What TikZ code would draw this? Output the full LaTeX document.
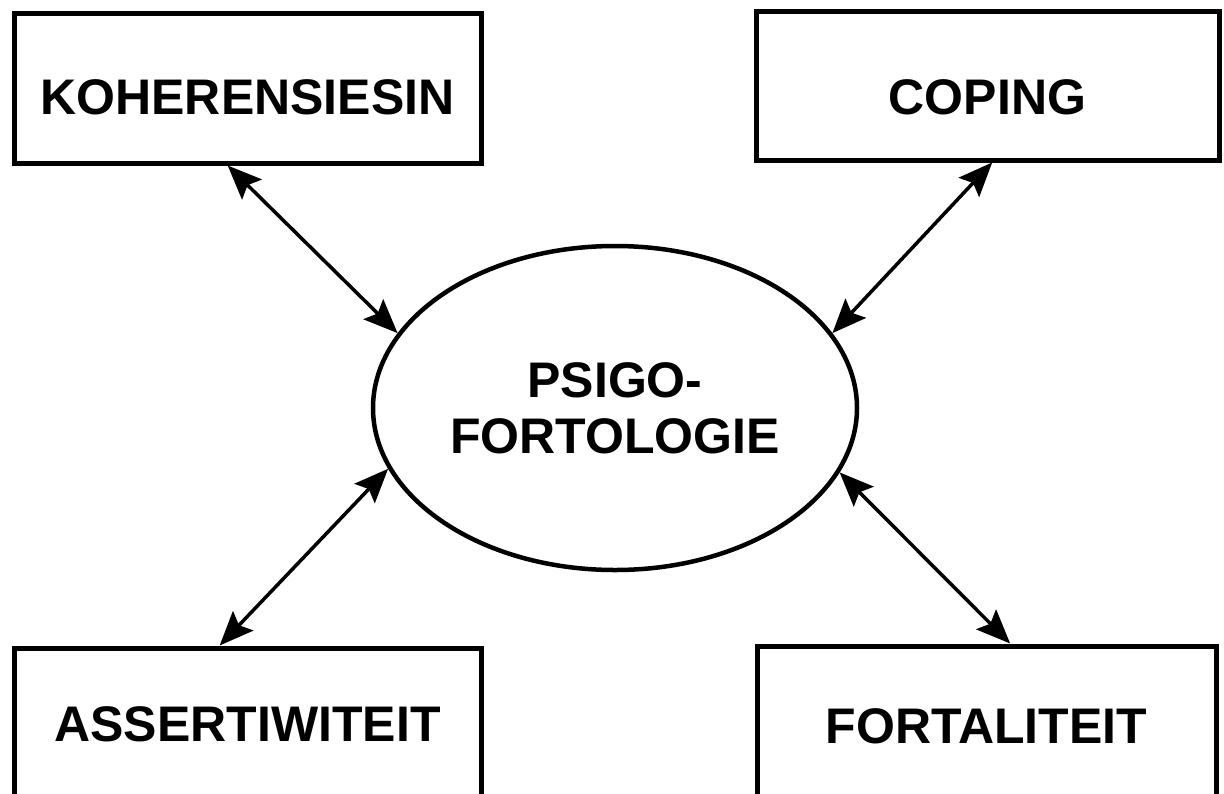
\documentclass[tikz,border=0pt]{standalone}
\usepackage{fontspec}
\setmainfont{Liberation Sans}
\usetikzlibrary{shapes.geometric,arrows.meta,calc}
\tikzset{
  box/.style={draw, line width=5pt, inner sep=0pt, text height=#1, text depth=0pt,
    font=\fontsize{50}{56}\selectfont\bfseries},
  oval/.style={draw, ellipse, line width=4.5pt, inner sep=0pt, align=center,
    font=\fontsize{50}{56}\selectfont\bfseries},
  conn/.style={line width=3.5pt, {Stealth[length=34pt,width=28pt,inset=6pt]}-{Stealth[length=34pt,width=28pt,inset=6pt]}}
}
\begin{document}
\begin{tikzpicture}[x=1pt,y=-1pt]
\useasboundingbox (0,0) rectangle (1224,793);
\node[box=53pt, minimum width=467pt, minimum height=150pt] (tl) at (247.5,88) {KOHERENSIESIN};
\node[box=58pt, minimum width=463pt, minimum height=149pt] (tr) at (987.5,85.5) {COPING};
\node[box=36pt, minimum width=467pt, minimum height=150pt] (bl) at (247.5,723) {ASSERTIWITEIT};
\node[box=44pt, minimum width=459pt, minimum height=150pt] (br) at (986.5,721) {FORTALITEIT};
\node[oval, minimum width=484pt, minimum height=324pt] (e) at (615,408) {PSIGO-\\FORTOLOGIE};
\draw[conn] ($(tl.south west)!0.458!(tl.south east)$) -- (e.161);
\draw[conn] ($(tr.south west)!0.51!(tr.south east)$) -- (e.19);
\draw[conn] ($(bl.north west)!0.441!(bl.north east)$) -- (e.195);
\draw[conn] ($(br.north west)!0.551!(br.north east)$) -- (e.344);
\end{tikzpicture}
\end{document}
